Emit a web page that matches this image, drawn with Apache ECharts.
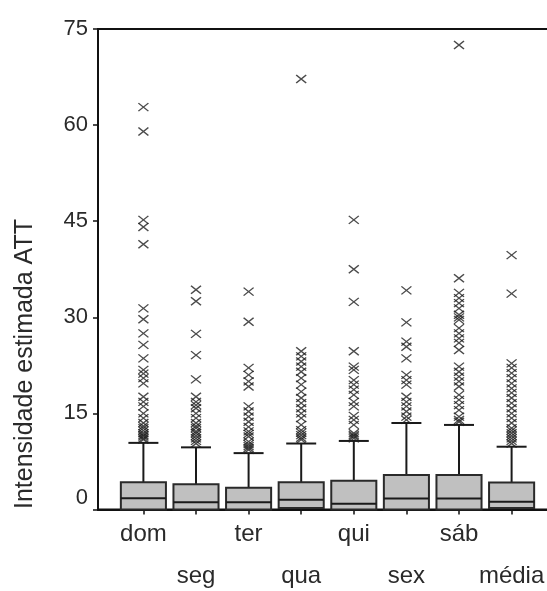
<!DOCTYPE html>
<html>
<head>
<meta charset="utf-8">
<script src="https://cdn.jsdelivr.net/npm/echarts@6/dist/echarts.min.js"></script>
<style>
html,body{margin:0;padding:0;background:#fff;}
#chart{width:547px;height:591px;}
</style>
</head>
<body>
<div id="chart"></div>
<script>
// ---- data ----
var categories = ['dom','seg','ter','qua','qui','sex','sáb','média'];
var boxMin    = [0, 0, 0, 0, 0, 0, 0, 0];
var boxQ1     = [0, 0, 0, 0.25, 0, 0, 0, 0.25];
var boxMedian = [1.77, 1.12, 1.12, 1.53, 0.9, 1.7, 1.7, 1.22];
var boxQ3     = [4.27, 3.94, 3.4, 4.27, 4.5, 5.4, 5.4, 4.2];
var boxMax    = [10.4, 9.7, 8.8, 10.3, 10.7, 13.5, 13.2, 9.8];

var outDom   = [62.8,59.0,45.2,44.1,41.4,31.4,29.7,27.5,25.7,23.6,21.8,21.2,20.5,19.7,17.6,16.8,16.1,15.0,14.25,13.5,13.0,12.7,12.3,11.9,11.6,11.4,11.1,10.9];
var outSeg   = [34.3,32.5,27.4,24.1,20.3,17.6,16.8,16.3,15.8,15.0,14.25,13.5,13.0,12.7,12.2,11.9,11.5,11.1,10.7,10.3];
var outTer   = [34.0,29.3,22.1,21.0,20.0,19.2,16.1,15.3,14.5,13.7,12.9,12.2,11.8,11.4,10.6,10.2,9.9,9.6,9.3];
var outQua   = [67.2,24.7,23.9,23.1,22.3,21.5,20.5,19.5,18.4,17.4,16.6,15.8,15.0,14.25,13.2,12.4,12.0,11.6,11.2,10.9];
var outQui   = [45.2,37.5,32.4,24.7,22.3,21.8,20.2,19.5,18.7,17.9,16.8,16.1,14.6,14.0,13.2,11.9,11.6,11.4,11.1];
var outSex   = [34.2,29.2,26.2,25.4,23.6,21.0,20.2,19.5,17.6,16.8,16.1,15.3,14.5,14.0];
var outSab   = [72.5,36.1,33.8,33.0,32.2,31.4,30.4,30.0,29.6,28.3,27.5,26.7,26.0,24.9,22.3,21.5,20.75,20.0,19.2,17.9,17.1,16.3,15.5,14.5,14.0,13.7];
var outMedia = [39.7,33.7,22.8,22.1,21.3,20.5,19.7,18.9,18.2,17.4,16.6,15.8,15.0,14.25,13.5,12.7,12.3,11.9,11.5,11.1,10.7,10.3];
var outliers = [outDom,outSeg,outTer,outQua,outQui,outSex,outSab,outMedia];

var yTitle = 'Intensidade estimada ATT';

// ---- build ----
var boxData = categories.map(function(c,i){
  return [i, boxMin[i], boxQ1[i], boxMedian[i], boxQ3[i], boxMax[i]];
});
var outData = [];
outliers.forEach(function(arr,i){ arr.forEach(function(v){ outData.push([i, v]); }); });
var catIdx = categories.map(function(c,i){return i;});

var FONT = '"Liberation Sans", Arial, sans-serif';
var chart = echarts.init(document.getElementById('chart'), null, {renderer:'canvas'});

chart.setOption({
  animation:false,
  backgroundColor:'#fff',
  grid:{left:98, top:29, right:-3, bottom:81.5, containLabel:false, outerBoundsMode:'none',
        show:true, borderColor:'#111', borderWidth:2, backgroundColor:'transparent'},
  xAxis:{
    type:'value', min:-0.863, max:7.73,
    splitLine:{show:false},
    axisLine:{show:true, onZero:false, lineStyle:{color:'#111', width:2}},
    axisTick:{show:true, customValues:catIdx, length:5, inside:false, lineStyle:{color:'#111', width:1.5}},
    axisLabel:{
      customValues:catIdx, margin:4, fontFamily:FONT, fontSize:24, color:'#2a2a2a', lineHeight:42,
      formatter:function(v){ var i=Math.round(v); return (i%2===1 ? '\n' : '') + categories[i]; }
    }
  },
  yAxis:{
    type:'value', min:0, max:75, interval:15,
    splitLine:{show:false},
    axisLine:{show:true, onZero:false, lineStyle:{color:'#111', width:2}},
    axisTick:{show:true, length:5, lineStyle:{color:'#111', width:1.5}},
    axisLabel:{
      margin:10, fontFamily:FONT, fontSize:22, color:'#2a2a2a',
      formatter:function(v){ return v===0 ? '{z|0}' : String(v); },
      rich:{z:{fontFamily:FONT, fontSize:22, color:'#2a2a2a', padding:[0,0,23,0]}}
    }
  },
  graphic:[{
    type:'text', x:25, y:364, rotation:Math.PI/2,
    style:{text:yTitle, font:'25px ' + FONT, fill:'#2a2a2a', textAlign:'center', textVerticalAlign:'middle'}
  }],
  series:[
    {
      type:'custom',
      data:boxData,
      encode:{x:0, y:[1,2,3,4,5]},
      z:3,
      renderItem:function(params, api){
        var x = api.value(0);
        var pMin = api.coord([x, api.value(1)]);
        var pQ1 = api.coord([x, api.value(2)]);
        var pMed = api.coord([x, api.value(3)]);
        var pQ3 = api.coord([x, api.value(4)]);
        var pMax = api.coord([x, api.value(5)]);
        var w = api.size([0.857, 0])[0];
        var cw = api.size([0.57, 0])[0];
        var ls = {stroke:'#1a1a1a', lineWidth:2};
        return {type:'group', children:[
          {type:'line', shape:{x1:pQ3[0], y1:pQ3[1], x2:pMax[0], y2:pMax[1]}, style:ls},
          {type:'line', shape:{x1:pMax[0]-cw/2, y1:pMax[1], x2:pMax[0]+cw/2, y2:pMax[1]}, style:ls},
          {type:'line', shape:{x1:pQ1[0], y1:pQ1[1], x2:pMin[0], y2:pMin[1]}, style:ls},
          {type:'rect', shape:{x:pQ3[0]-w/2, y:pQ3[1], width:w, height:pQ1[1]-pQ3[1]}, style:{fill:'#c0c0c0', stroke:'#2a2a2a', lineWidth:2}},
          {type:'line', shape:{x1:pMed[0]-w/2, y1:pMed[1], x2:pMed[0]+w/2, y2:pMed[1]}, style:ls}
        ]};
      }
    },
    {
      type:'scatter',
      data:outData,
      z:4,
      symbol:'path://M0,0L10,10M10,0L0,10',
      symbolSize:[10,8],
      symbolKeepAspect:false,
      itemStyle:{color:'none', borderColor:'#1e1e1e', borderWidth:1.3}
    }
  ]
});
</script>
</body>
</html>
